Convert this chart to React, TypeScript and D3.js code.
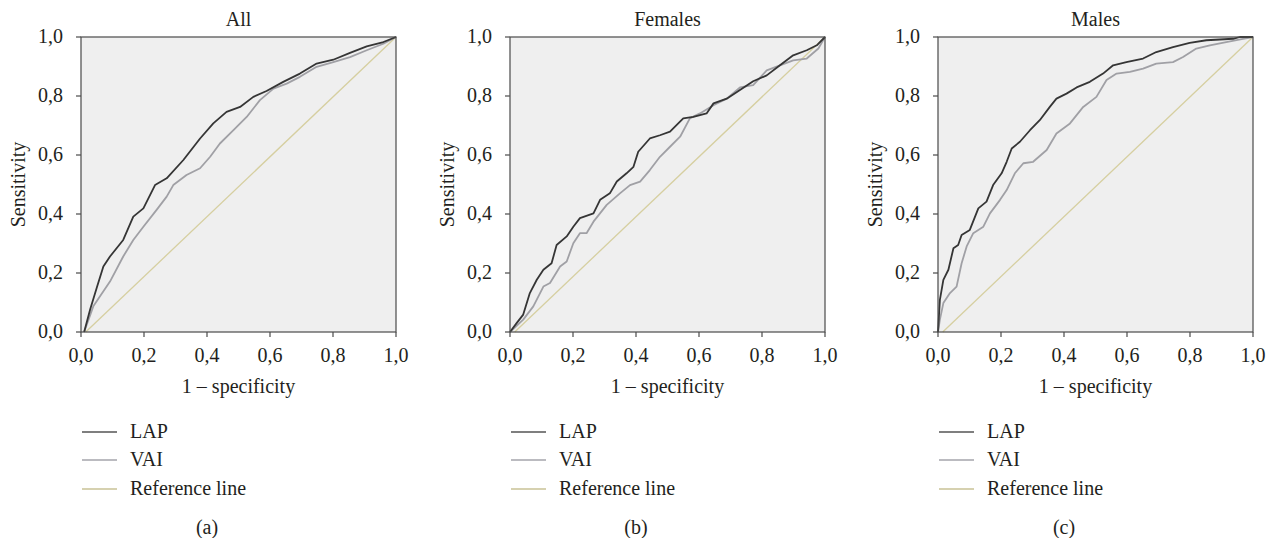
import React from "react";
import * as d3 from "d3";

const tickValues = [0, 0.2, 0.4, 0.6, 0.8, 1.0];
const tickLabels = ["0,0", "0,2", "0,4", "0,6", "0,8", "1,0"];
const panelTitles = ["All", "Females", "Males"];
const panelLetters = ["(a)", "(b)", "(c)"];
const legendLabels = ["LAP", "VAI", "Reference line"];

const allLAP: [number, number][] = [
  [0.01, 0], [0.029, 0.076], [0.05, 0.15], [0.071, 0.222], [0.092, 0.256], [0.134, 0.312],
  [0.166, 0.391], [0.198, 0.419], [0.235, 0.498], [0.272, 0.521], [0.325, 0.583],
  [0.378, 0.656], [0.42, 0.707], [0.462, 0.746], [0.505, 0.763], [0.547, 0.797],
  [0.589, 0.817], [0.642, 0.848], [0.695, 0.876], [0.748, 0.91], [0.801, 0.923],
  [0.854, 0.946], [0.907, 0.968], [0.96, 0.983], [1, 1],
];
const allVAI: [number, number][] = [
  [0.01, 0], [0.039, 0.087], [0.092, 0.171], [0.134, 0.256], [0.166, 0.312], [0.198, 0.357],
  [0.24, 0.414], [0.272, 0.459], [0.293, 0.498], [0.335, 0.532], [0.378, 0.555],
  [0.41, 0.594], [0.441, 0.639], [0.484, 0.684], [0.526, 0.729], [0.568, 0.786],
  [0.611, 0.825], [0.653, 0.842], [0.695, 0.865], [0.748, 0.899], [0.801, 0.915],
  [0.854, 0.932], [0.907, 0.955], [0.96, 0.977], [1, 1],
];
const femLAP: [number, number][] = [
  [0, 0], [0.021, 0.03], [0.042, 0.059], [0.063, 0.132], [0.085, 0.177], [0.106, 0.211],
  [0.132, 0.233], [0.148, 0.295], [0.18, 0.324], [0.201, 0.357], [0.222, 0.386],
  [0.265, 0.402], [0.286, 0.448], [0.317, 0.47], [0.339, 0.51], [0.37, 0.538],
  [0.392, 0.56], [0.407, 0.611], [0.444, 0.656], [0.476, 0.667], [0.508, 0.679],
  [0.55, 0.724], [0.582, 0.729], [0.624, 0.741], [0.646, 0.775], [0.688, 0.791],
  [0.73, 0.82], [0.772, 0.85], [0.815, 0.87], [0.857, 0.904], [0.899, 0.938],
  [0.942, 0.955], [0.974, 0.972], [1, 1],
];
const femVAI: [number, number][] = [
  [0, 0], [0.042, 0.042], [0.074, 0.087], [0.106, 0.154], [0.127, 0.166], [0.159, 0.222],
  [0.18, 0.239], [0.201, 0.301], [0.222, 0.335], [0.243, 0.335], [0.265, 0.374],
  [0.307, 0.431], [0.349, 0.47], [0.381, 0.498], [0.413, 0.51], [0.444, 0.549],
  [0.476, 0.594], [0.508, 0.628], [0.54, 0.662], [0.571, 0.724], [0.603, 0.741],
  [0.646, 0.769], [0.688, 0.791], [0.73, 0.829], [0.772, 0.837], [0.815, 0.887],
  [0.857, 0.904], [0.899, 0.921], [0.942, 0.927], [0.979, 0.961], [1, 1],
];
const maleLAP: [number, number][] = [
  [0, 0], [0.006, 0.109], [0.017, 0.177], [0.033, 0.211], [0.049, 0.284], [0.064, 0.295],
  [0.075, 0.329], [0.101, 0.346], [0.128, 0.419], [0.154, 0.442], [0.175, 0.498],
  [0.202, 0.538], [0.218, 0.577], [0.234, 0.622], [0.26, 0.645], [0.292, 0.684],
  [0.323, 0.718], [0.355, 0.763], [0.376, 0.791], [0.408, 0.808], [0.44, 0.829],
  [0.482, 0.848], [0.524, 0.876], [0.556, 0.904], [0.598, 0.915], [0.651, 0.927],
  [0.693, 0.949], [0.746, 0.966], [0.799, 0.98], [0.852, 0.989], [0.937, 0.994],
  [0.958, 1], [1, 1],
];
const maleVAI: [number, number][] = [
  [0, 0], [0.006, 0.042], [0.017, 0.098], [0.038, 0.132], [0.059, 0.154], [0.075, 0.233],
  [0.091, 0.29], [0.112, 0.335], [0.144, 0.357], [0.165, 0.402], [0.197, 0.448],
  [0.218, 0.481], [0.244, 0.538], [0.271, 0.572], [0.302, 0.577], [0.345, 0.617],
  [0.376, 0.673], [0.419, 0.707], [0.461, 0.763], [0.503, 0.797], [0.535, 0.854],
  [0.567, 0.876], [0.609, 0.882], [0.651, 0.893], [0.693, 0.91], [0.746, 0.915],
  [0.778, 0.932], [0.82, 0.961], [0.863, 0.972], [0.915, 0.983], [0.968, 0.994], [1, 1],
];
const referenceLine: [number, number][] = [[0.015, 0], [1, 1]];

const lapSeries = [allLAP, femLAP, maleLAP];
const vaiSeries = [allVAI, femVAI, maleVAI];

const panelLefts = [81, 510, 938];
const PW = 315;
const PT = 37;
const PH = 295;
const FONT = "'Liberation Serif', 'Times New Roman', serif";
const TEXT = "#231f20";
const LAP_COLOR = "#353535";
const VAI_COLOR = "#a0a0a5";
const REF_COLOR = "#d6cfa0";
const LEG_LAP = "#555555";
const LEG_VAI = "#a5a5ab";
const LEG_REF = "#c9c296";

function Panel({ i }: { i: number }) {
  const left = panelLefts[i];
  const x = d3.scaleLinear().domain([0, 1]).range([left, left + PW]);
  const y = d3.scaleLinear().domain([0, 1]).range([PT + PH, PT]);
  const line = d3
    .line<[number, number]>()
    .x((d) => x(d[0]))
    .y((d) => y(d[1]));
  const fs = 20;
  const legendY = [432, 460, 489];
  const legendColors = [LEG_LAP, LEG_VAI, LEG_REF];
  return (
    <g>
      <rect x={x(0)} y={y(1)} width={PW} height={PH} fill="#efefef" />
      <path d={line(referenceLine) || ""} fill="none" stroke={REF_COLOR} strokeWidth={1.3} />
      <path d={line(vaiSeries[i]) || ""} fill="none" stroke={VAI_COLOR} strokeWidth={1.8} strokeLinejoin="round" />
      <path d={line(lapSeries[i]) || ""} fill="none" stroke={LAP_COLOR} strokeWidth={1.8} strokeLinejoin="round" />
      <rect x={x(0)} y={y(1)} width={PW} height={PH} fill="none" stroke="#4a4a4a" strokeWidth={1.2} />
      {tickValues.map((t, k) => (
        <g key={"x" + k}>
          <line x1={x(t)} x2={x(t)} y1={y(0)} y2={y(0) + 5} stroke="#4a4a4a" strokeWidth={1.2} />
          <text x={x(t)} y={y(0) + 30} textAnchor="middle" fontSize={fs} fontFamily={FONT} fill={TEXT}>
            {tickLabels[k]}
          </text>
          <line x1={x(0) - 5} x2={x(0)} y1={y(t)} y2={y(t)} stroke="#4a4a4a" strokeWidth={1.2} />
          <text x={x(0) - 18} y={y(t) + 6} textAnchor="end" fontSize={fs} fontFamily={FONT} fill={TEXT}>
            {tickLabels[k]}
          </text>
        </g>
      ))}
      <text x={x(0.5)} y={26} textAnchor="middle" fontSize={fs} fontFamily={FONT} fill={TEXT}>
        {panelTitles[i]}
      </text>
      <text x={x(0.5)} y={393} textAnchor="middle" fontSize={fs} fontFamily={FONT} fill={TEXT}>
        1 – specificity
      </text>
      <text
        transform={`translate(${left - 56},${y(0.5)}) rotate(-90)`}
        textAnchor="middle"
        fontSize={fs}
        fontFamily={FONT}
        fill={TEXT}
      >
        Sensitivity
      </text>
      {legendLabels.map((lab, k) => (
        <g key={"l" + k}>
          <line x1={left + 1} x2={left + 36} y1={legendY[k]} y2={legendY[k]} stroke={legendColors[k]} strokeWidth={1.6} />
          <text x={left + 49} y={legendY[k] + 6} fontSize={fs} fontFamily={FONT} fill={TEXT}>
            {lab}
          </text>
        </g>
      ))}
      <text x={left + 126} y={534} textAnchor="middle" fontSize={fs} fontFamily={FONT} fill={TEXT}>
        {panelLetters[i]}
      </text>
    </g>
  );
}

export default function App() {
  return (
    <svg
      width={1274}
      height={538}
      style={{ position: "absolute", left: 0, top: 0, background: "#ffffff" }}
    >
      {[0, 1, 2].map((i) => (
        <Panel key={i} i={i} />
      ))}
    </svg>
  );
}
